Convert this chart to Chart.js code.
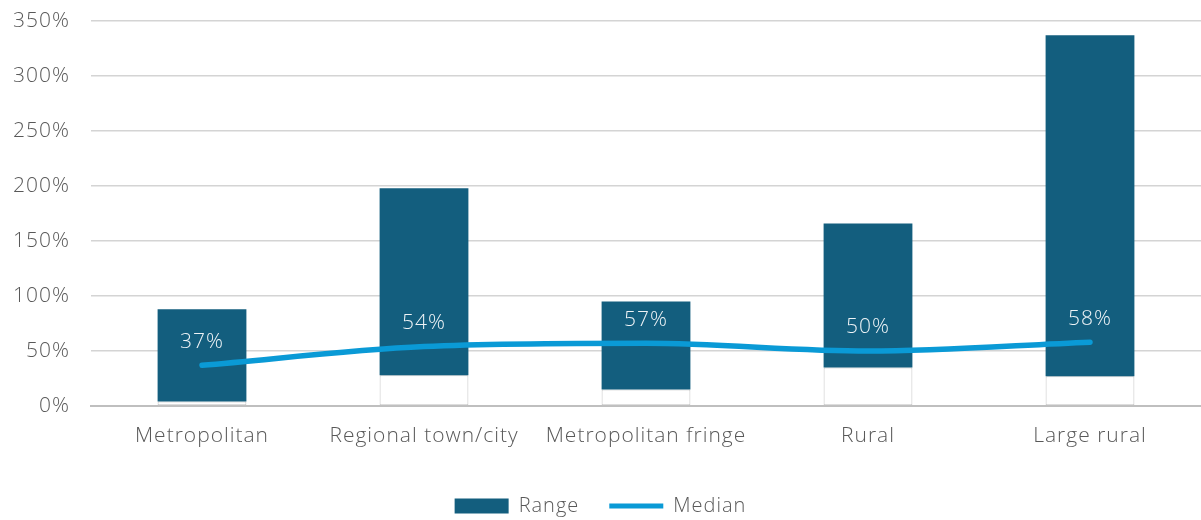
<!DOCTYPE html>
<html>
<head>
<meta charset="utf-8">
<script src="https://cdn.jsdelivr.net/npm/chart.js@4"></script>
<style>
  html, body { margin: 0; padding: 0; background: #fff; }
  #wrap { width: 1201px; height: 520px; }
</style>
</head>
<body>
<div id="wrap"><canvas id="rangeChart" width="1201" height="520"></canvas></div>
<script>
const categories = ['Metropolitan', 'Regional town/city', 'Metropolitan fringe', 'Rural', 'Large rural'];
const rangeMin = [4, 28, 15, 35, 27];
const rangeMax = [88, 198, 95, 166, 337];
const median = [37, 54, 57, 50, 58];

const barColor = '#135e7e';
const lineColor = '#0a9ad6';
const tickColor = '#595959';
const fontFamily = '"Open Sans", Lato, sans-serif';

// the original font is a bit wider, so spread the letters slightly
const wideText = {
  id: 'wideText',
  beforeUpdate(chart) { chart.ctx.letterSpacing = '1px'; },
  beforeDraw(chart) { chart.ctx.letterSpacing = '1px'; },
};

// white label above each median point
const medianLabels = {
  id: 'medianLabels',
  afterDatasetsDraw(chart) {
    const ctx = chart.ctx;
    const meta = chart.getDatasetMeta(2);
    ctx.save();
    ctx.fillStyle = '#eef3f6';
    ctx.font = '300 21px ' + fontFamily;
    ctx.textAlign = 'center';
    ctx.textBaseline = 'bottom';
    meta.data.forEach((pt, i) => {
      ctx.fillText(median[i] + '%', pt.x, pt.y - 13);
    });
    ctx.restore();
  }
};

new Chart(document.getElementById('rangeChart').getContext('2d'), {
  data: {
    labels: categories,
    datasets: [
      {
        type: 'bar',
        label: 'base',
        data: rangeMin.map(v => [0, v]),
        backgroundColor: '#ffffff',
        borderColor: '#c4c4c4',
        borderWidth: 1,
        borderSkipped: false,
        barPercentage: 0.4,
        categoryPercentage: 1,
        order: 2,
      },
      {
        type: 'bar',
        label: 'Range',
        data: rangeMin.map((v, i) => [v, rangeMax[i]]),
        backgroundColor: barColor,
        borderWidth: 0,
        barPercentage: 0.4,
        categoryPercentage: 1,
        order: 1,
      },
      {
        type: 'line',
        label: 'Median',
        data: median,
        borderColor: lineColor,
        backgroundColor: lineColor,
        borderWidth: 5.5,
        borderCapStyle: 'round',
        pointRadius: 0,
        cubicInterpolationMode: 'monotone',
        order: 0,
      },
    ],
  },
  options: {
    responsive: false,
    animation: false,
    layout: { padding: { top: 21, right: 0, left: 0, bottom: -6 } },
    plugins: {
      legend: {
        position: 'bottom',
        labels: {
          color: tickColor,
          font: { family: fontFamily, size: 20, weight: 300, lineHeight: 1 },
          usePointStyle: true,
          pointStyleWidth: 54,
          boxHeight: 15,
          padding: 30,
          sort: (a, b) => a.datasetIndex - b.datasetIndex,
          filter: (item) => item.text !== 'base',
          generateLabels: (chart) => {
            const items = Chart.defaults.plugins.legend.labels.generateLabels(chart);
            items.forEach(it => {
              if (it.text === 'Range') {
                it.pointStyle = 'rect';
                it.lineWidth = 0;
              } else if (it.text === 'Median') {
                it.pointStyle = 'line';
                it.lineWidth = 5;
                it.strokeStyle = lineColor;
              }
            });
            return items;
          },
        },
      },
      tooltip: { enabled: false },
    },
    scales: {
      x: {
        stacked: true,
        grid: { display: false },
        border: { color: '#bfbfbf', width: 2 },
        ticks: {
          color: tickColor,
          font: { family: fontFamily, size: 21, weight: 300 },
          padding: 9,
          maxRotation: 0,
          minRotation: 0,
          autoSkip: false,
        },
        afterFit: (scale) => { scale.height = 60; },
      },
      y: {
        min: 0,
        max: 350,
        ticks: {
          stepSize: 50,
          color: tickColor,
          font: { family: fontFamily, size: 21, weight: 300 },
          padding: 21,
          callback: (v) => v + '%',
        },
        grid: { color: '#d4d4d4', lineWidth: 1.5, drawTicks: false },
        border: { display: false },
        afterFit: (scale) => { scale.paddingTop = 0; scale.width = 91; },
      },
    },
  },
  plugins: [wideText, medianLabels],
});
</script>
</body>
</html>
